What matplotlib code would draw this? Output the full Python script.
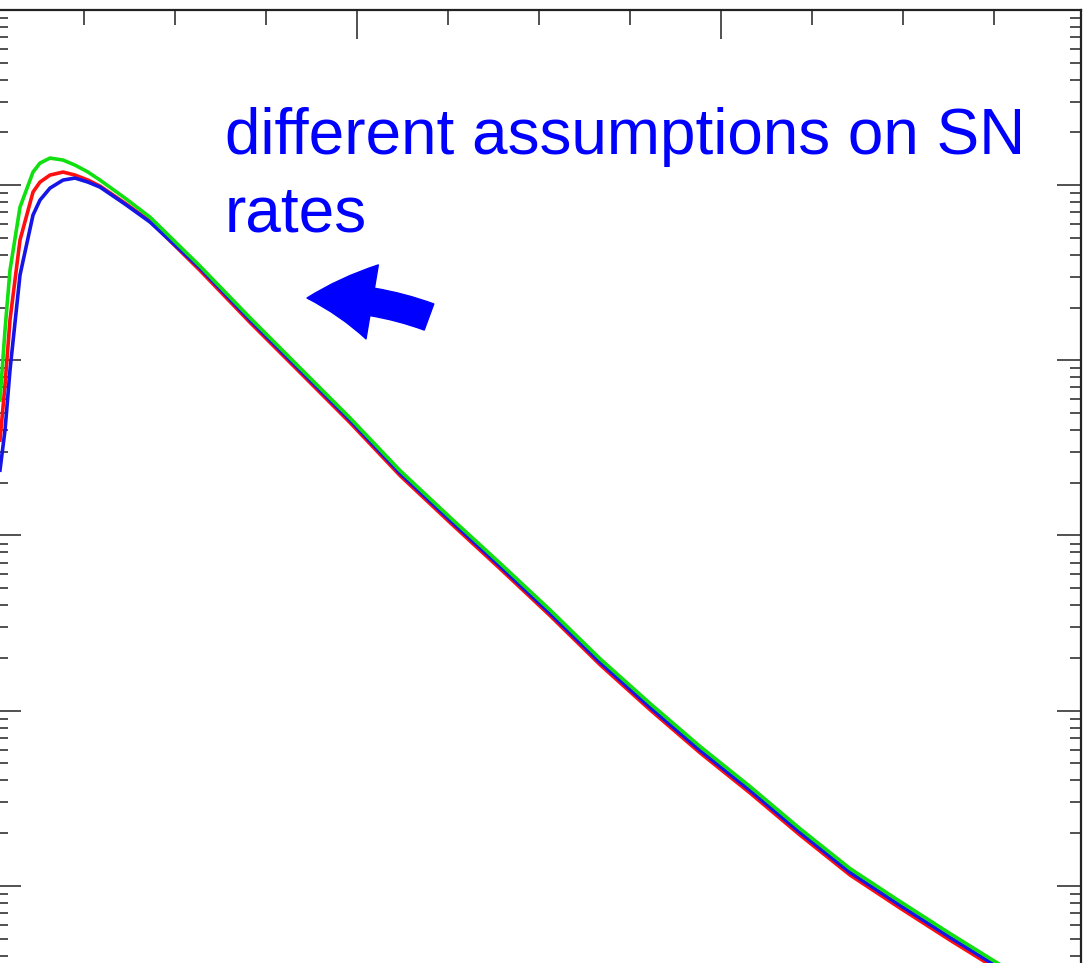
import numpy as np
import matplotlib
matplotlib.use("Agg")
import matplotlib.pyplot as plt
from matplotlib.patches import FancyArrowPatch
from matplotlib.ticker import MultipleLocator, LogLocator, NullFormatter

# curve values (x in major-tick units, y on log scale)
x_vals = [0.0192, 0.0330, 0.0467, 0.0742, 0.1099, 0.1291, 0.1566, 0.1923, 0.2253, 0.2610,
          0.2940, 0.3626, 0.4313, 0.5687, 0.7060, 0.8434, 0.9808, 1.1181, 1.2555, 1.3929,
          1.5302, 1.6676, 1.8049, 1.9423, 2.0797, 2.2170, 2.3544, 2.4918, 2.6291, 2.7665,
          2.9038]

green_vals = [5.93e-3, 1.49e-2, 3.27e-2, 7.49e-2, 1.188e-1, 1.337e-1, 1.428e-1, 1.391e-1, 1.302e-1, 1.188e-1,
              1.069e-1, 8.44e-2, 6.57e-2, 3.45e-2, 1.75e-2, 9.05e-3, 4.69e-3, 2.35e-3, 1.27e-3, 6.95e-4,
              3.76e-4, 1.98e-4, 1.10e-4, 6.25e-5, 3.69e-5, 2.12e-5, 1.255e-5, 8.14e-6, 5.34e-6, 3.55e-6,
              2.33e-6]

red_vals = [3.50e-3, 7.22e-3, 1.70e-2, 4.86e-2, 9.13e-2, 1.041e-1, 1.142e-1, 1.188e-1, 1.142e-1, 1.069e-1,
            9.88e-2, 7.90e-2, 6.24e-2, 3.26e-2, 1.646e-2, 8.53e-3, 4.41e-3, 2.20e-3, 1.186e-3, 6.47e-4,
            3.49e-4, 1.83e-4, 1.013e-4, 5.75e-5, 3.39e-5, 1.95e-5, 1.153e-5, 7.47e-6, 4.90e-6, 3.26e-6,
            2.14e-6]

blue_vals = [2.36e-3, 3.99e-3, 8.79e-3, 3.07e-2, 6.75e-2, 8.22e-2, 9.62e-2, 1.069e-1, 1.098e-1, 1.041e-1,
             9.75e-2, 7.80e-2, 6.16e-2, 3.36e-2, 1.697e-2, 8.79e-3, 4.55e-3, 2.27e-3, 1.223e-3, 6.68e-4,
             3.60e-4, 1.89e-4, 1.046e-4, 5.94e-5, 3.51e-5, 2.02e-5, 1.194e-5, 7.74e-6, 5.08e-6, 3.38e-6,
             2.22e-6]

W, H = 1084, 963
fig = plt.figure(figsize=(W / 100, H / 100), dpi=100)

# axes extend past the bottom/left of the picture (cropped view)
ax = fig.add_axes([-3 / W, (H - 1061) / H, 1084 / W, (1061 - 10) / H])

ax.plot(x_vals, red_vals, color="#ff1010", lw=2.6, solid_joinstyle="round")
ax.plot(x_vals, blue_vals, color="#1515e8", lw=2.6, solid_joinstyle="round")
ax.plot(x_vals, green_vals, color="#10e010", lw=2.6, solid_joinstyle="round")

ax.set_yscale("log")
ax.set_ylim(1e-6, 1)
ax.set_xlim(0.011, 2.989)

ax.xaxis.set_major_locator(MultipleLocator(1))
ax.xaxis.set_minor_locator(MultipleLocator(0.25))
ax.yaxis.set_major_locator(LogLocator(base=10))
ax.yaxis.set_minor_locator(LogLocator(base=10, subs=np.arange(2, 10)))
ax.yaxis.set_minor_formatter(NullFormatter())

ax.tick_params(which="both", direction="in", top=True, right=True,
               labelbottom=False, labelleft=False, width=1.1, color="#222222")
ax.tick_params(axis="x", which="major", length=21)
ax.tick_params(axis="x", which="minor", length=11)
ax.tick_params(axis="y", which="major", length=17)
ax.tick_params(axis="y", which="minor", length=8)
for s in ax.spines.values():
    s.set_linewidth(1.6)
    s.set_color("#222222")

# va="baseline" on multi-line text aligns the last line's baseline
fig.text(225 / W, 1 - 231 / H, "different assumptions on SN\nrates",
         color="#0000ff", fontsize=46, family="Liberation Sans",
         ha="left", va="baseline", linespacing=1.37)

arrow = FancyArrowPatch((429 / W, 1 - 317 / H), (307 / W, 1 - 298 / H),
                        transform=fig.transFigure,
                        arrowstyle="simple,head_length=2.35,head_width=2.7,tail_width=1.0",
                        mutation_scale=20, connectionstyle="arc3,rad=0.1",
                        color="#0000ff", shrinkA=0, shrinkB=0)
fig.patches.append(arrow)

fig.savefig("out.png", dpi=100)
